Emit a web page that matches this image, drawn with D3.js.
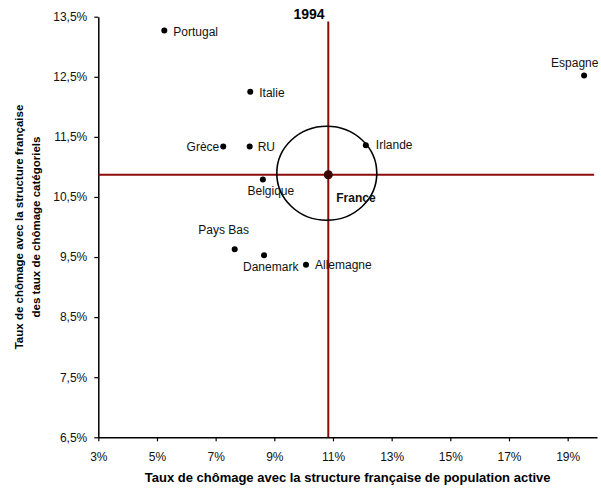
<!DOCTYPE html>
<html>
<head>
<meta charset="utf-8">
<script src="https://cdn.jsdelivr.net/npm/d3@7"></script>
<style>
    body { margin: 0; background: #fff; }
    svg { font-family: "Liberation Sans", Arial, sans-serif; }
    .tick text { font-size: 12px; fill: #111; }
    .pays { font-size: 12px; fill: #111; }
</style>
</head>
<body>
<svg id="chart" width="601" height="489"></svg>
<script>
    'use strict';

    // pays, valeurs (en %)
    const pays = ['Portugal', 'Italie', 'Grèce', 'RU', 'Belgique', 'Pays Bas', 'Danemark', 'Allemagne', 'Irlande', 'Espagne', 'France'];
    const tauxPopActive = [5.25, 8.18, 7.26, 8.16, 8.61, 7.65, 8.65, 10.08, 12.12, 19.56, 10.84];
    const tauxCategoriels = [13.27, 12.25, 11.34, 11.34, 10.79, 9.63, 9.53, 9.37, 11.36, 12.52, 10.87];

    const xTicks = [3, 5, 7, 9, 11, 13, 15, 17, 19];
    const yTicks = [6.5, 7.5, 8.5, 9.5, 10.5, 11.5, 12.5, 13.5];

    // étendue des droites rouges passant par la France
    const croixX = [3, 19.9];
    const croixY = [6.5, 13.42];

    const LAYOUT = {
        left: 98.3, right: 597, top: 16.7, bottom: 437.3,
        ellipse: { rx: 50, ry: 47 }
    };

    // placement des étiquettes autour du point
    const LABELS = {
        'Portugal': { dx: 9, dy: 5, anchor: 'start' },
        'Italie': { dx: 9, dy: 5, anchor: 'start' },
        'Grèce': { dx: -4, dy: 5, anchor: 'end' },
        'RU': { dx: 8, dy: 5, anchor: 'start' },
        'Belgique': { dx: 8, dy: 15, anchor: 'middle' },
        'Pays Bas': { dx: -11, dy: -15, anchor: 'middle' },
        'Danemark': { dx: -21, dy: 16, anchor: 'start' },
        'Allemagne': { dx: 9, dy: 4, anchor: 'start' },
        'Irlande': { dx: 10, dy: 4, anchor: 'start' },
        'Espagne': { dx: -33, dy: -9, anchor: 'start' },
        'France': { dx: 8, dy: 27, anchor: 'start', bold: true }
    };

    const fr = d3.formatLocale({ decimal: ',', thousands: ' ', grouping: [3], currency: ['', ' €'] });
    const fmtX = v => fr.format('.0f')(v) + '%';
    const fmtY = v => fr.format('.1f')(v) + '%';

    const svg = d3.select('#chart');

    const x = d3.scaleLinear().domain([3, 20]).range([LAYOUT.left, LAYOUT.right]);
    const y = d3.scaleLinear().domain([6.5, 13.5]).range([LAYOUT.bottom, LAYOUT.top]);

    const points = pays.map((nom, i) => ({ nom: nom, x: tauxPopActive[i], y: tauxCategoriels[i] }));
    const france = points.find(p => p.nom === 'France');

    // axes
    const xAxis = svg.append('g')
        .attr('transform', `translate(0,${LAYOUT.bottom})`)
        .call(d3.axisBottom(x).tickValues(xTicks).tickFormat(fmtX).tickSizeInner(4).tickSizeOuter(0).tickPadding(11));
    const yAxis = svg.append('g')
        .attr('transform', `translate(${LAYOUT.left},0)`)
        .call(d3.axisLeft(y).tickValues(yTicks).tickFormat(fmtY).tickSizeInner(4).tickSizeOuter(0).tickPadding(7));

    [xAxis, yAxis].forEach(a => {
        a.attr('font-family', null).attr('font-size', null);
        a.select('.domain').attr('stroke', '#000').attr('stroke-width', 1.5);
        a.selectAll('.tick line').attr('stroke', '#000').attr('stroke-width', 1.2);
    });

    // droites rouges
    svg.append('line')
        .attr('x1', x(croixX[0])).attr('x2', x(croixX[1]))
        .attr('y1', y(france.y)).attr('y2', y(france.y))
        .attr('stroke', '#8b0a0a').attr('stroke-width', 2);
    svg.append('line')
        .attr('x1', x(france.x)).attr('x2', x(france.x))
        .attr('y1', y(croixY[0])).attr('y2', y(croixY[1]))
        .attr('stroke', '#8b0a0a').attr('stroke-width', 2);

    // cercle autour de la France
    svg.append('ellipse')
        .attr('cx', x(france.x) - 1.5).attr('cy', y(france.y) - 1.5)
        .attr('rx', LAYOUT.ellipse.rx).attr('ry', LAYOUT.ellipse.ry)
        .attr('fill', 'none').attr('stroke', '#000').attr('stroke-width', 1.6);

    // points
    svg.append('g').selectAll('circle')
        .data(points)
        .enter()
        .append('circle')
        .attr('cx', d => x(d.x))
        .attr('cy', d => y(d.y))
        .attr('r', d => d.nom === 'France' ? 4.5 : 3)
        .attr('fill', d => d.nom === 'France' ? '#3a0505' : '#000');

    svg.append('g').selectAll('text')
        .data(points)
        .enter()
        .append('text')
        .attr('class', 'pays')
        .attr('x', d => x(d.x) + LABELS[d.nom].dx)
        .attr('y', d => y(d.y) + LABELS[d.nom].dy)
        .attr('text-anchor', d => LABELS[d.nom].anchor)
        .attr('font-weight', d => LABELS[d.nom].bold ? 'bold' : null)
        .text(d => d.nom);

    // titre et libellés d'axes
    svg.append('text')
        .attr('x', 309).attr('y', 18.5)
        .attr('text-anchor', 'middle')
        .attr('font-size', 14).attr('font-weight', 'bold')
        .text('1994');

    svg.append('text')
        .attr('x', (LAYOUT.left + LAYOUT.right) / 2).attr('y', 482)
        .attr('text-anchor', 'middle')
        .attr('font-size', 13).attr('font-weight', 'bold')
        .text('Taux de chômage avec la structure française de population active');

    const yLabel = svg.append('text')
        .attr('transform', `translate(23,${(LAYOUT.top + LAYOUT.bottom) / 2}) rotate(-90)`)
        .attr('text-anchor', 'middle')
        .attr('font-size', 11.5).attr('font-weight', 'bold');
    yLabel.append('tspan').attr('x', 0).attr('dy', 0).text('Taux de chômage avec la structure française');
    yLabel.append('tspan').attr('x', 0).attr('dy', 17).text('des taux de chômage catégoriels');
</script>
</body>
</html>
